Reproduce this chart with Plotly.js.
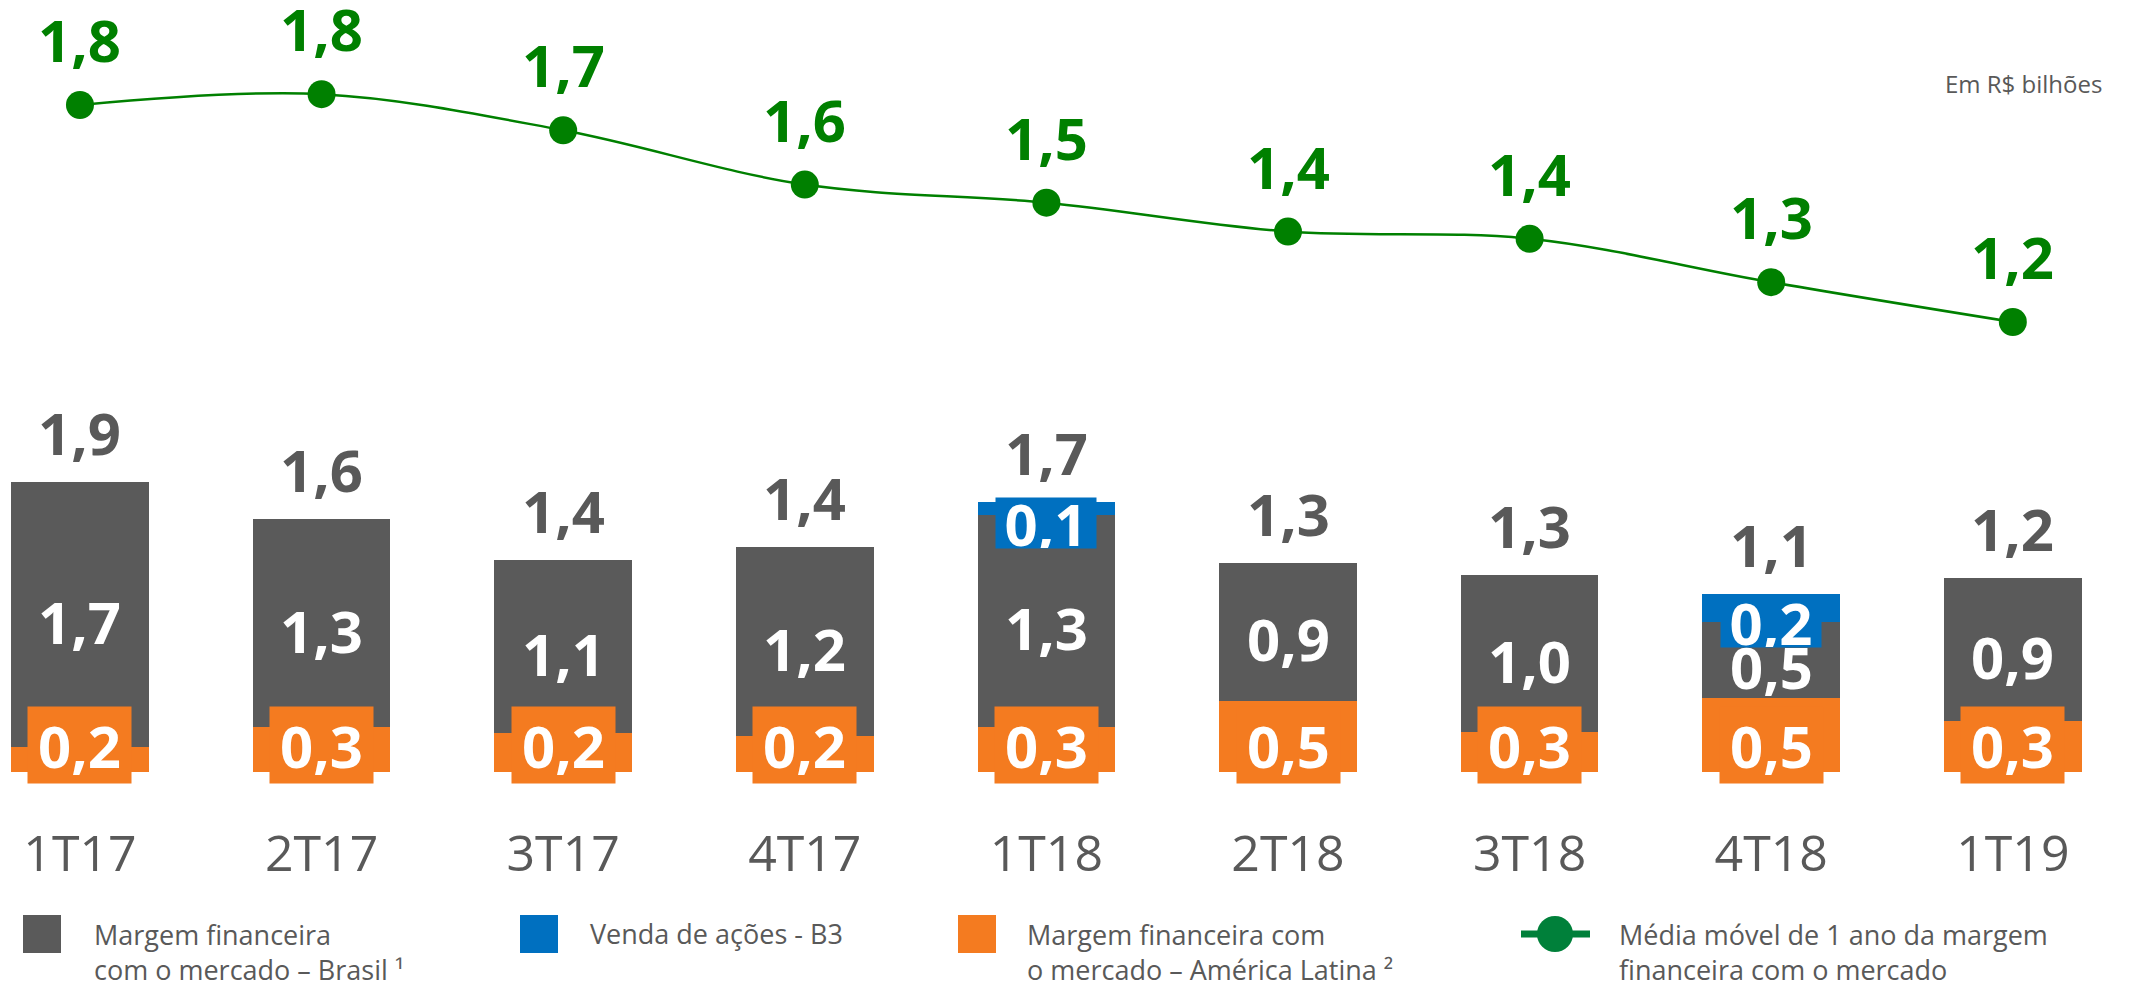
<!DOCTYPE html>
<html>
<head>
<meta charset="utf-8">
<script src="https://cdn.plot.ly/plotly-3.0.1.min.js"></script>
<style>
  html, body { margin: 0; padding: 0; background: #ffffff; }
  #chart { width: 2130px; height: 987px; }
</style>
</head>
<body>
<div id="chart"></div>
<script>
// ---- data ----
const categories = ['1T17', '2T17', '3T17', '4T17', '1T18', '2T18', '3T18', '4T18', '1T19'];
const brasil = [1.71, 1.34, 1.12, 1.22, 1.37, 0.89, 1.01, 0.49, 0.92];
const americaLatina = [0.16, 0.29, 0.25, 0.23, 0.29, 0.46, 0.26, 0.48, 0.33];
const vendaB3 = [0, 0, 0, 0, 0.08, 0, 0, 0.18, 0];
const mediaMovel = [1.80, 1.83, 1.73, 1.58, 1.53, 1.45, 1.43, 1.31, 1.20];

const totalLabels = ['1,9', '1,6', '1,4', '1,4', '1,7', '1,3', '1,3', '1,1', '1,2'];
const brasilLabels = ['1,7', '1,3', '1,1', '1,2', '1,3', '0,9', '1,0', '0,5', '0,9'];
const latamLabels = ['0,2', '0,3', '0,2', '0,2', '0,3', '0,5', '0,3', '0,5', '0,3'];
const b3Labels = ['', '', '', '', '0,1', '', '', '0,2', ''];
const mediaLabels = ['1,8', '1,8', '1,7', '1,6', '1,5', '1,4', '1,4', '1,3', '1,2'];

const seriesNames = {
  brasil: 'Margem financeira<br>com o mercado – Brasil ¹',
  b3: 'Venda de ações - B3',
  latam: 'Margem financeira com<br>o mercado – América Latina ²',
  media: 'Média móvel de 1 ano da margem<br>financeira com o mercado'
};

// ---- styles ----
const GRAY = '#5a5a5a';
const ORANGE = '#f47b20';
const BLUE = '#0070c0';
const GREEN = '#008000';
const TEXT = '#595959';
const FONT = 'Open Sans, Noto Sans, sans-serif';

const W = 2130, H = 987, PLOT_H = 800;
const px = x => x / W;
const py = y => (PLOT_H - y) / PLOT_H;

const traces = [
  { type: 'bar', name: seriesNames.latam, x: categories, y: americaLatina,
    marker: { color: ORANGE, line: { width: 0 } }, hoverinfo: 'skip', showlegend: false },
  { type: 'bar', name: seriesNames.brasil, x: categories, y: brasil,
    marker: { color: GRAY, line: { width: 0 } }, hoverinfo: 'skip', showlegend: false },
  { type: 'bar', name: seriesNames.b3, x: categories, y: vendaB3,
    marker: { color: BLUE, line: { width: 0 } }, hoverinfo: 'skip', showlegend: false },
  { type: 'scatter', mode: 'lines+markers', name: seriesNames.media, x: categories, y: mediaMovel,
    yaxis: 'y2', line: { color: GREEN, width: 2.5, shape: 'spline', smoothing: 1 },
    marker: { color: GREEN, size: 28 }, hoverinfo: 'skip', showlegend: false }
];

const annotations = [];
const labelFont = (color) => ({ family: FONT, size: 58, color: color, weight: 'bold' });

categories.forEach((c, i) => {
  const total = americaLatina[i] + brasil[i] + vendaB3[i];
  // total above bar
  annotations.push({ x: c, y: total, xref: 'x', yref: 'y', text: totalLabels[i],
    showarrow: false, yanchor: 'bottom', yshift: 8, font: labelFont(TEXT) });
  // Brasil segment
  annotations.push({ x: c, y: americaLatina[i] + brasil[i] / 2, xref: 'x', yref: 'y', text: brasilLabels[i],
    showarrow: false, yanchor: 'middle', yshift: -7, font: labelFont('#ffffff') });
  // America Latina segment (boxed)
  annotations.push({ x: c, y: 0, xref: 'x', yref: 'y', text: latamLabels[i],
    showarrow: false, yanchor: 'middle', yshift: 27, width: 103, height: 76, borderpad: 0,
    bgcolor: ORANGE, font: labelFont('#ffffff') });
  // B3 segment (boxed)
  if (vendaB3[i] > 0) {
    annotations.push({ x: c, y: total - vendaB3[i] / 2, xref: 'x', yref: 'y', text: b3Labels[i],
      showarrow: false, yanchor: 'middle', yshift: -14, width: 100, height: 50, borderpad: 0,
      bgcolor: BLUE, font: labelFont('#ffffff') });
  }
  // moving average labels
  annotations.push({ x: c, y: mediaMovel[i], xref: 'x', yref: 'y2', text: mediaLabels[i],
    showarrow: false, yanchor: 'bottom', yshift: 24, font: labelFont(GREEN) });
});

// unit note
annotations.push({ x: px(2104), y: py(84), xref: 'paper', yref: 'paper', text: 'Em R$ bilhões',
  showarrow: false, xanchor: 'right', yanchor: 'middle', font: { family: FONT, size: 24, color: TEXT } });

// legend (manual)
const shapes = [];
const legendFont = { family: FONT, size: 27, color: TEXT };
function sq(x0, color) {
  shapes.push({ type: 'rect', xref: 'paper', yref: 'paper', x0: px(x0), x1: px(x0 + 38),
    y0: py(953), y1: py(915), fillcolor: color, line: { width: 0 } });
}
sq(23, GRAY); sq(520, BLUE); sq(958, ORANGE);
shapes.push({ type: 'line', xref: 'paper', yref: 'paper', x0: px(1521), x1: px(1590),
  y0: py(934), y1: py(934), line: { color: '#00803a', width: 7 } });
shapes.push({ type: 'circle', xref: 'paper', yref: 'paper', x0: px(1537), x1: px(1573),
  y0: py(952), y1: py(916), fillcolor: '#00803a', line: { width: 0 } });

function legText(x, y, t) {
  annotations.push({ x: px(x), y: py(y), xref: 'paper', yref: 'paper', text: t, showarrow: false,
    xanchor: 'left', yanchor: 'middle', align: 'left', font: legendFont });
}
legText(92, 952, seriesNames.brasil);
legText(588, 933, seriesNames.b3);
legText(1025, 952, seriesNames.latam);
legText(1617, 952, seriesNames.media);

const layout = {
  width: W, height: H,
  margin: { l: 0, r: 0, t: 0, b: H - PLOT_H, pad: 0 },
  paper_bgcolor: '#ffffff', plot_bgcolor: '#ffffff',
  barmode: 'stack', bargap: 0.43,
  showlegend: false,
  xaxis: { type: 'category', range: [-0.331, 8.485], showgrid: false, zeroline: false,
    showline: false, ticks: '', ticklabelstandoff: 20,
    tickfont: { family: FONT, size: 50, color: TEXT }, fixedrange: true },
  yaxis: { range: [-0.1806, 4.9806], visible: false, showgrid: false, zeroline: false, fixedrange: true },
  yaxis2: { range: [-0.1217, 2.0903], overlaying: 'y', visible: false, showgrid: false,
    zeroline: false, fixedrange: true },
  annotations: annotations,
  shapes: shapes
};

Plotly.newPlot('chart', traces, layout, { displayModeBar: false, staticPlot: true });
</script>
</body>
</html>
